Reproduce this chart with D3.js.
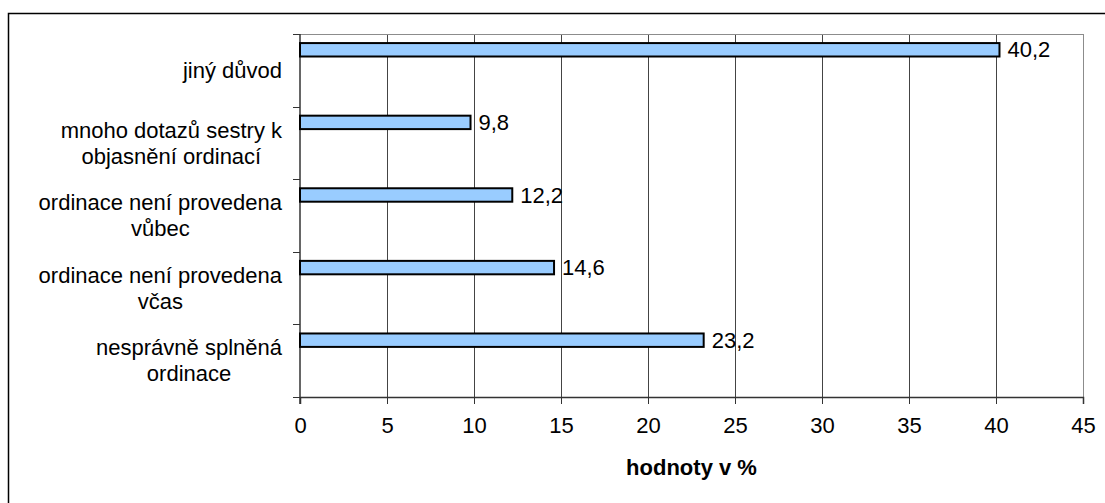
<!DOCTYPE html>
<html>
<head>
<meta charset="utf-8">
<script src="https://cdn.jsdelivr.net/npm/d3@7"></script>
<style>
  html, body { margin: 0; padding: 0; background: #fff; }
  svg { display: block; }
  text { font-family: "Liberation Sans", Arial, sans-serif; fill: #000; }
</style>
</head>
<body>
<svg id="chart" width="1105" height="503"></svg>
<script>
// Category labels (top to bottom); each entry is a list of lines
const categories = [
  ["jiný důvod"],
  ["mnoho dotazů sestry k", "objasnění ordinací"],
  ["ordinace není provedena", "vůbec"],
  ["ordinace není provedena", "včas"],
  ["nesprávně splněná", "ordinace"]
];
const values = [40.2, 9.8, 12.2, 14.6, 23.2];
const xTicks = [0, 5, 10, 15, 20, 25, 30, 35, 40, 45];
const axisTitle = "hodnoty v %";

const svg = d3.select("#chart");
const plot = { left: 300, right: 1083, top: 34, bottom: 397 };
const fontSize = 22;

// outer frame
svg.append("rect")
  .attr("x", 8.5).attr("y", 13.5)
  .attr("width", 1110).attr("height", 520)
  .attr("fill", "#fff").attr("stroke", "#000").attr("stroke-width", 1.5);

const x = d3.scaleLinear().domain([0, 45]).range([plot.left, plot.right]);
const y = d3.scaleBand().domain(d3.range(categories.length)).range([plot.top, plot.bottom]).padding(0);

// vertical gridlines
svg.append("g").selectAll("line")
  .data(xTicks.filter(t => t > 0))
  .join("line")
  .attr("x1", d => Math.round(x(d)) + 0.5).attr("x2", d => Math.round(x(d)) + 0.5)
  .attr("y1", plot.top).attr("y2", plot.bottom)
  .attr("stroke", d => d === 45 ? "#8c8c8c" : "#444").attr("stroke-width", 1);

// top frame of plot area
svg.append("line")
  .attr("x1", plot.left - 7).attr("x2", plot.right)
  .attr("y1", plot.top + 0.5).attr("y2", plot.top + 0.5)
  .attr("stroke", "#8c8c8c");

// x axis
const xAxis = d3.axisBottom(x).tickValues(xTicks).tickSize(7).tickPadding(13)
  .tickFormat(d => d);
const gx = svg.append("g").attr("transform", `translate(0,${plot.bottom})`).call(xAxis);
gx.select(".domain").attr("stroke", "#333").attr("stroke-width", 1.5);
gx.selectAll(".tick line").attr("stroke", "#333");
gx.selectAll(".tick text").attr("font-size", fontSize).attr("font-family", "Liberation Sans, Arial, sans-serif").attr("fill", "#000");

// y axis (ticks at band boundaries)
const bounds = d3.range(categories.length + 1).map(i => plot.top + i * y.step());
svg.append("line")
  .attr("x1", plot.left).attr("x2", plot.left)
  .attr("y1", plot.top).attr("y2", plot.bottom + 7)
  .attr("stroke", "#333").attr("stroke-width", 1.5);
svg.append("g").selectAll("line")
  .data(bounds)
  .join("line")
  .attr("x1", plot.left - 7).attr("x2", plot.left)
  .attr("y1", d => Math.round(d) + 0.5).attr("y2", d => Math.round(d) + 0.5)
  .attr("stroke", "#333");

// bars
const barOffset = y.bandwidth() * 0.125;
const barH = y.bandwidth() * 0.185;
svg.append("g").selectAll("rect")
  .data(values)
  .join("rect")
  .attr("x", x(0))
  .attr("y", (d, i) => y(i) + barOffset)
  .attr("width", d => x(d) - x(0))
  .attr("height", barH)
  .attr("fill", "#99ccff")
  .attr("stroke", "#000").attr("stroke-width", 2);

// value labels
svg.append("g").selectAll("text")
  .data(values)
  .join("text")
  .attr("x", d => x(d) + 8)
  .attr("y", (d, i) => y(i) + barOffset + barH / 2)
  .attr("dy", "0.35em")
  .attr("font-size", fontSize)
  .text(d => String(d).replace(".", ","));

// category labels: block right-aligned, lines centered within block
const labelRight = 282;
const lineH = 26;
const catG = svg.append("g");
categories.forEach((lines, i) => {
  const cy = y(i) + y.bandwidth() / 2;
  const t = catG.append("text").attr("font-size", fontSize).attr("text-anchor", "middle");
  const tspans = lines.map((ln, k) => t.append("tspan")
    .attr("y", cy + (k - (lines.length - 1) / 2) * lineH)
    .attr("dy", "0.35em")
    .text(ln));
  const widths = tspans.map(ts => ts.node().getComputedTextLength());
  const cx = labelRight - d3.max(widths) / 2;
  tspans.forEach(ts => ts.attr("x", cx));
});

// axis title
svg.append("text")
  .attr("x", (plot.left + plot.right) / 2)
  .attr("y", 467).attr("dy", "0.35em")
  .attr("text-anchor", "middle")
  .attr("font-size", fontSize).attr("font-weight", "bold")
  .text(axisTitle);
</script>
</body>
</html>
